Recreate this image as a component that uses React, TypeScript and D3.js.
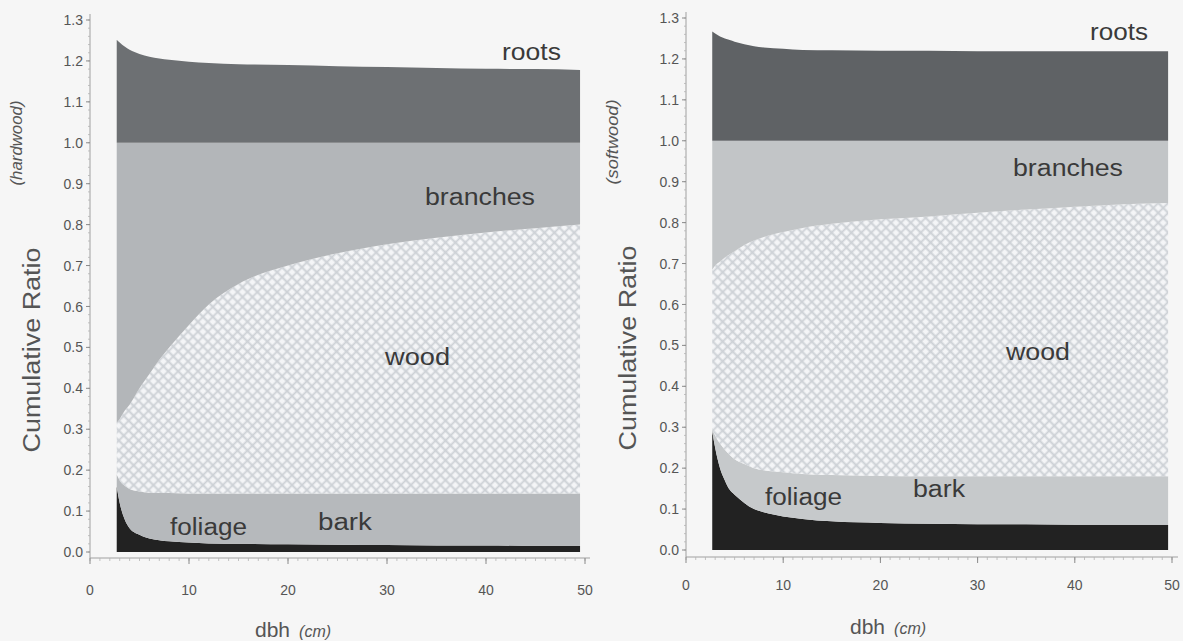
import React from "react";
import * as d3 from "d3";

// ---------- data ----------
const DBH_HW = [2.7, 3, 3.5, 4, 5, 6, 7, 8, 10, 12, 15, 20, 25, 30, 35, 40, 45, 49.5];
const HW_FOLIAGE = [0.16, 0.12, 0.08, 0.058, 0.042, 0.033, 0.029, 0.026, 0.023, 0.021, 0.02, 0.019, 0.018, 0.017, 0.016, 0.016, 0.015, 0.015];
const HW_BARK = [0.19, 0.175, 0.162, 0.154, 0.148, 0.145, 0.144, 0.144, 0.143, 0.143, 0.143, 0.143, 0.143, 0.143, 0.143, 0.143, 0.143, 0.143];
const HW_WOOD = [0.315, 0.325, 0.345, 0.36, 0.4, 0.435, 0.47, 0.5, 0.555, 0.605, 0.655, 0.7, 0.73, 0.752, 0.768, 0.781, 0.791, 0.8];
const HW_BRANCHES = [1, 1, 1, 1, 1, 1, 1, 1, 1, 1, 1, 1, 1, 1, 1, 1, 1, 1];
const HW_ROOTS = [1.252, 1.245, 1.235, 1.227, 1.217, 1.21, 1.206, 1.203, 1.198, 1.195, 1.192, 1.19, 1.187, 1.185, 1.183, 1.181, 1.18, 1.178];

const DBH_SW = [2.7, 3, 3.5, 4, 4.5, 5, 6, 7, 8, 10, 12, 15, 20, 25, 30, 35, 40, 45, 49.6];
const SW_FOLIAGE = [0.29, 0.25, 0.2, 0.17, 0.147, 0.135, 0.115, 0.1, 0.092, 0.082, 0.076, 0.07, 0.066, 0.064, 0.063, 0.063, 0.062, 0.062, 0.062];
const SW_BARK = [0.295, 0.28, 0.26, 0.245, 0.232, 0.222, 0.21, 0.2, 0.195, 0.19, 0.186, 0.183, 0.181, 0.18, 0.18, 0.18, 0.18, 0.18, 0.18];
const SW_WOOD = [0.685, 0.695, 0.705, 0.715, 0.723, 0.73, 0.745, 0.756, 0.765, 0.777, 0.787, 0.797, 0.808, 0.815, 0.824, 0.832, 0.839, 0.845, 0.848];
const SW_BRANCHES = [1, 1, 1, 1, 1, 1, 1, 1, 1, 1, 1, 1, 1, 1, 1, 1, 1, 1, 1];
const SW_ROOTS = [1.267, 1.262, 1.255, 1.25, 1.246, 1.242, 1.236, 1.231, 1.228, 1.225, 1.222, 1.221, 1.22, 1.22, 1.219, 1.219, 1.219, 1.219, 1.219];

const Y_TICKS = [0, 0.1, 0.2, 0.3, 0.4, 0.5, 0.6, 0.7, 0.8, 0.9, 1.0, 1.1, 1.2, 1.3];
const X_TICKS = [0, 10, 20, 30, 40, 50];
const LAYER_NAMES = ["foliage", "bark", "wood", "branches", "roots"];

const FONT = "'Liberation Sans', Arial, Helvetica, sans-serif";

type Panel = {
  dbh: number[];
  layers: number[][];
  x0: number; x1: number; y0: number; y1: number;
  axisY: number; axisTop: number; axisRight: number; xLabY: number;
  colors: string[];
  subtitle: string;
  labels: { name: string; x: number; y: number; w: number }[];
  titleX: number; titleCY: number; subX: number; subCY: number;
  dbhX: number; dbhY: number;
};

const panels: Panel[] = [
  {
    dbh: DBH_HW,
    layers: [HW_FOLIAGE, HW_BARK, HW_WOOD, HW_BRANCHES, HW_ROOTS],
    x0: 90, x1: 585, y0: 552, y1: 20,
    axisY: 558, axisTop: 14, axisRight: 590, xLabY: 595,
    colors: ["#222222", "#b6b9bc", "url(#hatch)", "#b3b6b9", "#6d7073"],
    subtitle: "(hardwood)",
    labels: [
      { name: "roots", x: 502, y: 60, w: 59 },
      { name: "branches", x: 425, y: 205, w: 110 },
      { name: "wood", x: 385, y: 365, w: 65 },
      { name: "bark", x: 318, y: 530, w: 54 },
      { name: "foliage", x: 170, y: 535, w: 77 },
    ],
    titleX: 40, titleCY: 350, subX: 22, subCY: 143,
    dbhX: 255, dbhY: 637,
  },
  {
    dbh: DBH_SW,
    layers: [SW_FOLIAGE, SW_BARK, SW_WOOD, SW_BRANCHES, SW_ROOTS],
    x0: 686, x1: 1172, y0: 550, y1: 18,
    axisY: 557, axisTop: 12, axisRight: 1178, xLabY: 590,
    colors: ["#222222", "#c6c9cb", "url(#hatch)", "#c2c5c7", "#5f6265"],
    subtitle: "(softwood)",
    labels: [
      { name: "roots", x: 1090, y: 40, w: 58 },
      { name: "branches", x: 1013, y: 176, w: 110 },
      { name: "wood", x: 1006, y: 360, w: 64 },
      { name: "bark", x: 913, y: 497, w: 52 },
      { name: "foliage", x: 765, y: 505, w: 77 },
    ],
    titleX: 636, titleCY: 348, subX: 618, subCY: 142,
    dbhX: 850, dbhY: 634,
  },
];

function PanelView({ p }: { p: Panel }) {
  const x = d3.scaleLinear().domain([0, 50]).range([p.x0, p.x1]);
  const y = d3.scaleLinear().domain([0, 1.3]).range([p.y0, p.y1]);
  const idx = d3.range(p.dbh.length);
  const areas = p.layers.map((top, k) => {
    const bottom = k === 0 ? null : p.layers[k - 1];
    const gen = d3
      .area<number>()
      .x((i) => x(p.dbh[i]))
      .y0((i) => (bottom ? y(bottom[i]) : y(0)))
      .y1((i) => y(top[i]))
      .curve(d3.curveMonotoneX);
    return gen(idx) || "";
  });
  const ax = p.x0;
  const minorX = d3.range(0, 50.01, 1);
  const minorY = d3.range(0, 1.3001, 0.02);
  return (
    <g>
      {areas.map((d, k) => (
        <path key={LAYER_NAMES[k]} d={d} fill={p.colors[k]} stroke="none" />
      ))}
      <line x1={ax} x2={ax} y1={p.axisTop} y2={p.axisY} stroke="#a0a0a0" strokeWidth={1} />
      <line x1={ax} x2={p.axisRight} y1={p.axisY} y2={p.axisY} stroke="#a0a0a0" strokeWidth={1} />
      {minorY.map((v) => (
        <line key={"my" + v} x1={ax - 2} x2={ax} y1={y(v)} y2={y(v)} stroke="#b4b4b4" strokeWidth={0.8} />
      ))}
      {Y_TICKS.map((v) => (
        <g key={"yt" + v}>
          <line x1={ax - 4} x2={ax} y1={y(v)} y2={y(v)} stroke="#8a8a8a" strokeWidth={1} />
          <text x={ax - 7} y={y(v)} dy="0.36em" textAnchor="end" fontSize={14} fill="#555" fontFamily={FONT}>
            {v.toFixed(1)}
          </text>
        </g>
      ))}
      {minorX.map((v) => (
        <line key={"mx" + v} x1={x(v)} x2={x(v)} y1={p.axisY} y2={p.axisY + 3} stroke="#b4b4b4" strokeWidth={0.8} />
      ))}
      {X_TICKS.map((v) => (
        <g key={"xt" + v}>
          <line x1={x(v)} x2={x(v)} y1={p.axisY} y2={p.axisY + 6} stroke="#8a8a8a" strokeWidth={1} />
          <text x={x(v)} y={p.xLabY} textAnchor="middle" fontSize={14} fill="#555" fontFamily={FONT}>
            {v}
          </text>
        </g>
      ))}
      {p.labels.map((l) => (
        <text key={l.name} x={l.x} y={l.y} fontSize={23} fill="#3a3a3a" fontFamily={FONT}
          textLength={l.w} lengthAdjust="spacingAndGlyphs">
          {l.name}
        </text>
      ))}
      <text transform={`translate(${p.titleX},${p.titleCY}) rotate(-90)`} textAnchor="middle"
        fontSize={23} fill="#555" fontFamily={FONT} textLength={205} lengthAdjust="spacingAndGlyphs">
        Cumulative Ratio
      </text>
      <text transform={`translate(${p.subX},${p.subCY}) rotate(-90)`} textAnchor="middle"
        fontSize={16} fontStyle="italic" fill="#555" fontFamily={FONT} textLength={85} lengthAdjust="spacingAndGlyphs">
        {p.subtitle}
      </text>
      <text x={p.dbhX} y={p.dbhY} fontSize={21} fill="#555" fontFamily={FONT}>
        dbh
        <tspan dx={9} fontSize={16} fontStyle="italic">(cm)</tspan>
      </text>
    </g>
  );
}

export default function App() {
  return (
    <svg width={1183} height={641} viewBox="0 0 1183 641"
      style={{ position: "absolute", left: 0, top: 0, background: "#f6f6f6" }}>
      <defs>
        <pattern id="hatch" width={7} height={7} patternUnits="userSpaceOnUse" patternTransform="rotate(45)">
          <rect width={7} height={7} fill="#f4f5f7" />
          <path d="M3.5 0V7M0 3.5H7" stroke="#cdd1d6" strokeWidth={1.8} />
        </pattern>
      </defs>
      <rect width={1183} height={641} fill="#f6f6f6" />
      {panels.map((p, i) => (
        <PanelView key={i} p={p} />
      ))}
    </svg>
  );
}
